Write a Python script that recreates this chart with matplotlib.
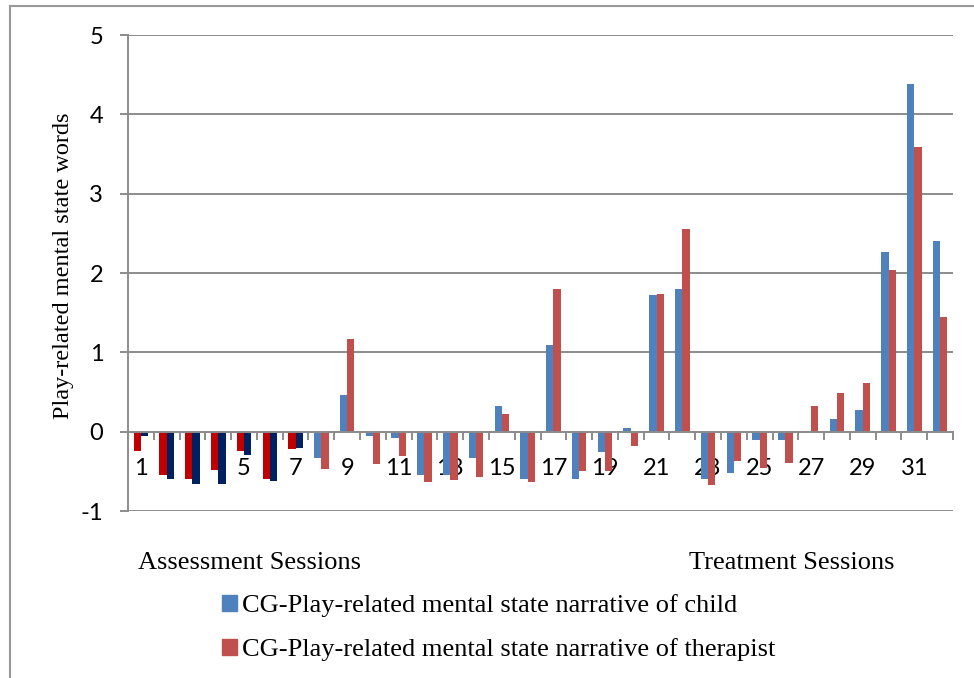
import numpy as np
import matplotlib.pyplot as plt
from matplotlib.patches import Patch, Rectangle

plt.rcParams['axes.unicode_minus'] = False

# data
sessions = [str(i) for i in range(1, 33)]
child = [-0.24, -0.55, -0.60, -0.48, -0.24, -0.60, -0.22, -0.33, 0.46, -0.06,
         -0.08, -0.55, -0.55, -0.33, 0.32, -0.60, 1.09, -0.60, -0.25, 0.05,
         1.72, 1.80, -0.60, -0.52, -0.10, -0.10, 0.00, 0.16, 0.27, 2.27,
         4.38, 2.40]
therapist = [-0.06, -0.60, -0.66, -0.66, -0.29, -0.62, -0.20, -0.47, 1.17, -0.41,
             -0.31, -0.64, -0.61, -0.57, 0.22, -0.64, 1.80, -0.50, -0.50, -0.18,
             1.74, 2.55, -0.67, -0.37, -0.46, -0.40, 0.32, 0.49, 0.61, 2.04,
             3.59, 1.45]
n_assessment = 7
series_labels = ['CG-Play-related mental state narrative of child',
                 'CG-Play-related mental state narrative of therapist']

BLUE, RED = '#4F81BD', '#C0504D'
DKRED, NAVY = '#C00000', '#002060'
GRID = '#8C8C8C'

W, H = 974, 678
fig = plt.figure(figsize=(W / 100, H / 100), dpi=100)
ax = fig.add_axes([128 / W, 1 - 511 / H, 825 / W, 476 / H])

x = np.arange(len(sessions))
bw = 0.283
c_child = [DKRED if i < n_assessment else BLUE for i in x]
c_ther = [NAVY if i < n_assessment else RED for i in x]
ax.bar(x - bw / 2, child, bw, color=c_child, zorder=3)
ax.bar(x + bw / 2, therapist, bw, color=c_ther, zorder=3)

ax.set_xlim(-0.5, len(sessions) - 0.5)
ax.set_ylim(-1, 5)
ax.set_yticks(range(-1, 6))
ax.yaxis.grid(True, color=GRID, lw=1.4)
ax.set_axisbelow(True)

for s in ['top', 'right']:
    ax.spines[s].set_visible(False)
ax.spines['left'].set_color(GRID)
ax.spines['left'].set_linewidth(1.4)
ax.spines['bottom'].set_position(('data', 0))
ax.spines['bottom'].set_color(GRID)
ax.spines['bottom'].set_linewidth(1.4)
ax.spines['bottom'].set_zorder(4)

ax.set_xticks(x[::2])
ax.set_xticklabels(sessions[::2])
ax.set_xticks(np.arange(-0.5, len(sessions), 1), minor=True)
ax.tick_params(axis='x', which='major', length=0, pad=19, labelsize=17)
ax.tick_params(axis='x', which='minor', length=5.8, width=1.4, color=GRID,
               direction='out')
ax.tick_params(axis='y', length=5.8, width=1.4, color=GRID, pad=12, labelsize=17)
for lab in ax.get_xticklabels() + ax.get_yticklabels():
    lab.set_fontfamily('Lato')

fig.text(64 / W, 1 - 266 / H, 'Play-related mental state words', rotation=90,
         ha='center', va='center', family='Liberation Serif', fontsize=17.5)
fig.text(250 / W, 1 - 563 / H, 'Assessment Sessions', ha='center', va='center',
         family='Liberation Serif', fontsize=19)
fig.text(792 / W, 1 - 563 / H, 'Treatment Sessions', ha='center', va='center',
         family='Liberation Serif', fontsize=19)

handles = [Patch(color=BLUE), Patch(color=RED)]
fig.legend(handles, series_labels, loc='upper left',
           bbox_to_anchor=(222 / W, 1 - 594 / H), frameon=False,
           prop={'family': 'Liberation Serif', 'size': 19},
           handlelength=0.55, handleheight=0.55, handletextpad=0.2,
           labelspacing=0.8, borderpad=0, borderaxespad=0)

fig.add_artist(Rectangle((10 / W, -0.1), 1.2, 1.1 - 6 / H, transform=fig.transFigure,
                         fill=False, ec='#999999', lw=1.5))

fig.savefig('out.png', dpi=100)
